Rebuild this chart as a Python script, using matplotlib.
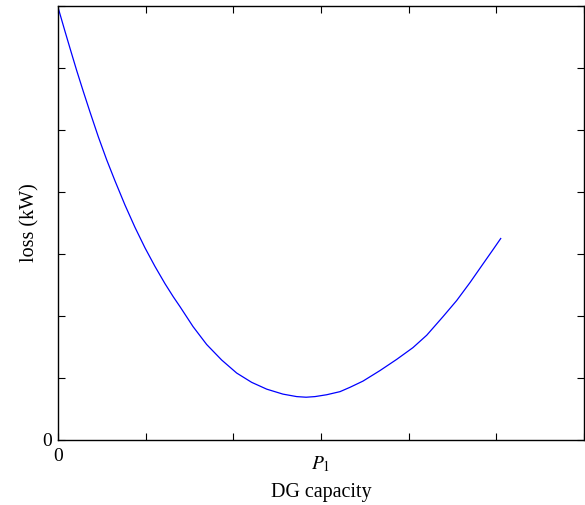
import matplotlib
matplotlib.use("Agg")
import matplotlib.pyplot as plt

plt.rcParams["font.family"] = ["Liberation Serif", "DejaVu Serif"]
plt.rcParams["mathtext.fontset"] = "stix"

# DG capacity (tick units) vs loss (tick units)
capacity = [0.0, 0.080, 0.145, 0.213, 0.289, 0.365, 0.460, 0.555, 0.650,
            0.764, 0.878, 0.992, 1.106, 1.221, 1.315, 1.392, 1.540, 1.696,
            1.867, 2.038, 2.209, 2.381, 2.566, 2.723, 2.830, 2.931, 3.065,
            3.217, 3.331, 3.479, 3.673, 3.863, 4.049, 4.206, 4.392, 4.548,
            4.700, 4.848, 4.962, 5.050]
loss = [6.98, 6.59, 6.28, 5.96, 5.62, 5.29, 4.89, 4.52, 4.18,
        3.79, 3.43, 3.10, 2.80, 2.52, 2.31, 2.15, 1.83, 1.54,
        1.29, 1.08, 0.93, 0.82, 0.74, 0.70, 0.69, 0.70, 0.73,
        0.78, 0.85, 0.95, 1.12, 1.30, 1.49, 1.69, 1.99, 2.25,
        2.54, 2.84, 3.07, 3.25]
x_ticks = [0, 1, 2, 3, 4, 5, 6]
y_ticks = [0, 1, 2, 3, 4, 5, 6, 7]
p1_pos = 3

fig = plt.figure(figsize=(5.85, 5.05), dpi=100)
ax = fig.add_axes([58 / 585, 65 / 505, 526 / 585, 434 / 505])

ax.plot(capacity, loss, color="#0000ff", linewidth=0.9)

ax.set_xlim(0, 6)
ax.set_ylim(0, 7)
ax.set_xticks(x_ticks, ["0"] + [""] * (len(x_ticks) - 1))
ax.set_yticks(y_ticks, ["0"] + [""] * (len(y_ticks) - 1))
ax.xaxis.remove_overlapping_locs = False
ax.set_xticks([p1_pos], [r"$P_1$"], minor=True)

ax.tick_params(which="major", direction="in", length=5, width=0.8,
               top=True, right=True, labelsize=14, colors="black")
ax.tick_params(axis="x", which="major", pad=6)
ax.tick_params(axis="y", which="major", pad=4)
ax.tick_params(axis="x", which="minor", length=0, pad=10, labelsize=14)
for spine in ax.spines.values():
    spine.set_linewidth(1.0)

ax.set_xlabel("DG capacity", fontsize=14.5, labelpad=7)
ax.set_ylabel("loss (kW)", fontsize=14.5, labelpad=2)

fig.savefig("out.png", dpi=100)
